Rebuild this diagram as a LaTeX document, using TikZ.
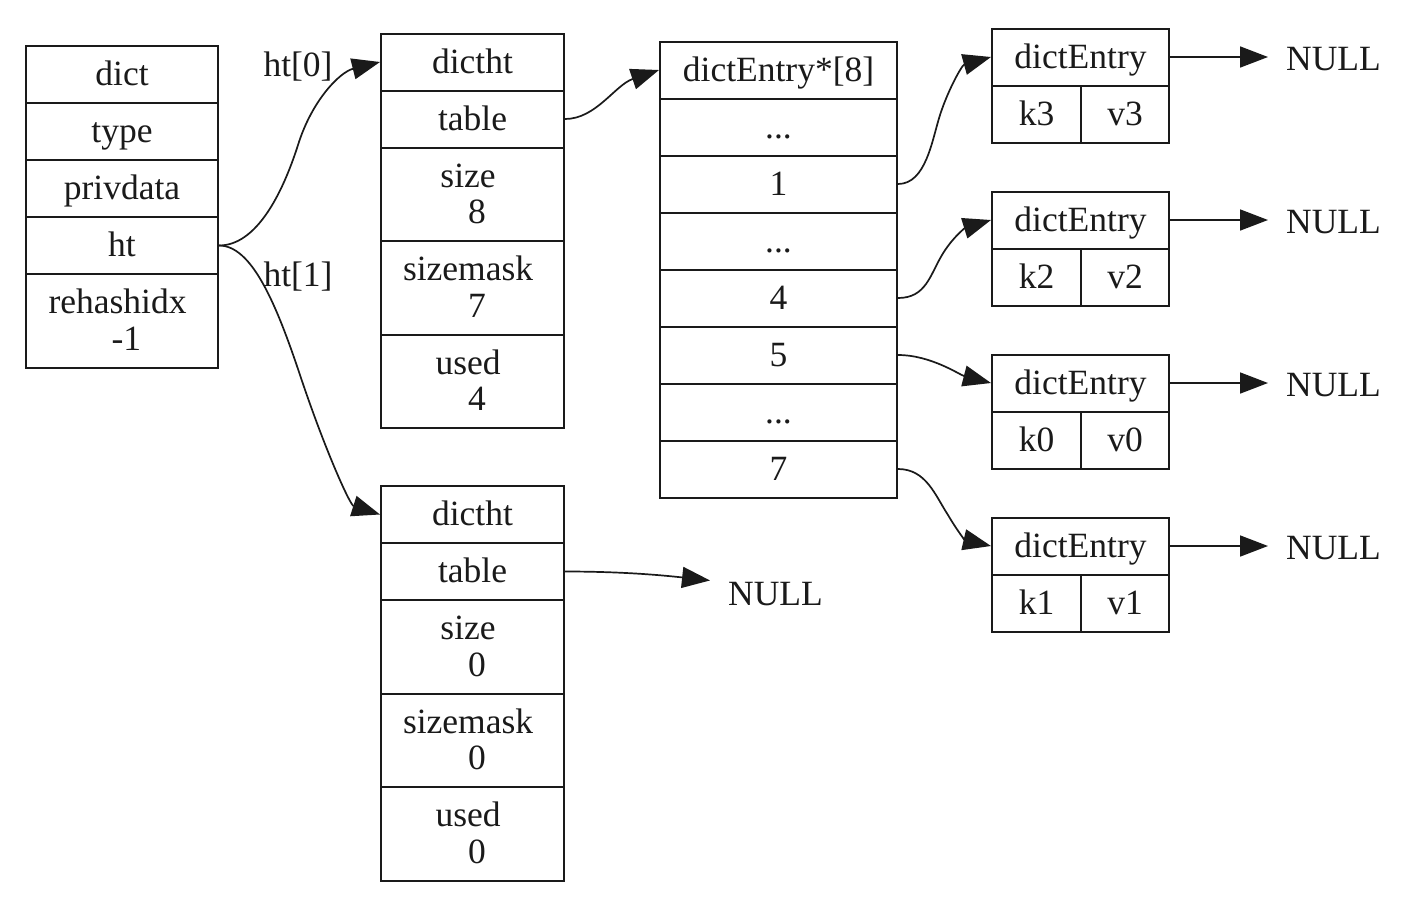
\documentclass[tikz,border=0pt]{standalone}
\usepackage{fontspec}
\setmainfont{Liberation Serif}
\usetikzlibrary{arrows.meta}

\definecolor{ink}{HTML}{1A1A1A}
\newcommand\cellfont{\fontsize{35.5}{36.5}\selectfont}
\newcommand\pd{\kern0.25em}
% two stacked lines inside one record field
\newcommand\two[2]{\begin{tabular}[t]{@{}c@{}}#1\\#2\end{tabular}}

\begin{document}
\begin{tikzpicture}[x=1pt,y=-1pt,
  every node/.style={font=\cellfont, text=ink},
  box/.style={draw=ink, line width=2pt, inner sep=0pt, text height=24pt, text depth=2pt, minimum height=57pt},
  tall/.style={box, minimum height=93.5pt, text depth=38.5pt},
  dictw/.style={minimum width=192pt},
  htw/.style={minimum width=183pt},
  arrw/.style={minimum width=237pt},
  entw/.style={minimum width=177pt},
  kw/.style={minimum width=89pt},
  vw/.style={minimum width=88pt},
  link/.style={draw=ink, line width=1.7pt, -{Triangle[length=28pt,width=21pt]}},
  lbl/.style={inner sep=0pt, text height=24pt, text depth=3pt},
  nullnode/.style={inner xsep=18pt, inner ysep=0pt, text height=26pt, text depth=0pt, anchor=west}
]
\path[fill=white, use as bounding box] (0,0) rectangle (1418,914);

% dict
\node[box,dictw] (dict) at (122,74.5) {dict};
\node[box,dictw] (type) at (122,131.5) {type};
\node[box,dictw] (priv) at (122,188.5) {privdata};
\node[box,dictw] (ht) at (122,245.5) {ht};
\node[tall,dictw] (rehash) at (122,320.75) {\two{rehashidx\pd}{\pd-1}};

% dictht ht[0]
\node[box,htw] (h0) at (472.5,62) {dictht};
\node[box,htw] (t0) at (472.5,119) {table};
\node[tall,htw] (s0) at (472.5,194.25) {\two{size\pd}{\pd8}};
\node[tall,htw] (m0) at (472.5,287.75) {\two{sizemask\pd}{\pd7}};
\node[tall,htw] (u0) at (472.5,381.25) {\two{used\pd}{\pd4}};

% dictht ht[1]
\node[box,htw] (h1) at (472.5,514.5) {dictht};
\node[box,htw] (t1) at (472.5,571.5) {table};
\node[tall,htw] (s1) at (472.5,646.75) {\two{size\pd}{\pd0}};
\node[tall,htw] (m1) at (472.5,740.25) {\two{sizemask\pd}{\pd0}};
\node[tall,htw] (u1) at (472.5,833.75) {\two{used\pd}{\pd0}};

% bucket array
\node[box,arrw] (a) at (778.5,70) {dictEntry*[8]};
\node[box,arrw] (rd1) at (778.5,127) {...};
\node[box,arrw] (r1) at (778.5,184) {1};
\node[box,arrw] (rd2) at (778.5,241) {...};
\node[box,arrw] (r4) at (778.5,298) {4};
\node[box,arrw] (r5) at (778.5,355) {5};
\node[box,arrw] (rd3) at (778.5,412) {...};
\node[box,arrw] (r7) at (778.5,469) {7};

% entries
\node[box,entw] (e3) at (1080.5,57) {dictEntry};
\node[box,kw] (k3) at (1036.5,114) {k3};
\node[box,vw] (v3) at (1125,114) {v3};

\node[box,entw] (e2) at (1080.5,220) {dictEntry};
\node[box,kw] (k2) at (1036.5,277) {k2};
\node[box,vw] (v2) at (1125,277) {v2};

\node[box,entw] (e0) at (1080.5,383) {dictEntry};
\node[box,kw] (k0) at (1036.5,440) {k0};
\node[box,vw] (v0) at (1125,440) {v0};

\node[box,entw] (e1) at (1080.5,546) {dictEntry};
\node[box,kw] (k1) at (1036.5,603) {k1};
\node[box,vw] (v1) at (1125,603) {v1};

% NULL terminators
\node[nullnode] (n3) at (1268,57) {NULL};
\node[nullnode] (n2) at (1268,220) {NULL};
\node[nullnode] (n0) at (1268,383) {NULL};
\node[nullnode] (n1) at (1268,546) {NULL};
\node[nullnode] (nt) at (710,592) {NULL};

% edge labels
\node[lbl] (l0) at (298,66) {ht[0]};
\node[lbl] (l1) at (298,276) {ht[1]};

% pointers
\draw[link] (ht.east) .. controls +(37,0) and (282,195) .. (298,145)
                      .. controls (312,100) and (340,72) .. (h0.west);
\draw[link] (ht.east) .. controls +(32,0) and (275,300) .. (300,375)
                      .. controls (325,450) and (350,505) .. (h1.west);
\draw[link] (t0.east) .. controls +(31,0) and (615,85) .. (a.west);
\draw[link] (t1.east) .. controls +(56,0) and (660,575) .. (nt.170);

\draw[link] (r1.east) .. controls +(28,0) and (932,140) .. (940,115)
                      .. controls (948,90) and (962,65) .. (e3.west);
\draw[link] (r4.east) .. controls +(28,0) and (930,275) .. (942,255)
                      .. controls (952,238) and (965,228) .. (e2.west);
\draw[link] (r5.east) .. controls +(33,0) and (960,375) .. (e0.west);
\draw[link] (r7.east) .. controls +(28,0) and (935,495) .. (948,515)
                      .. controls (958,532) and (965,540) .. (e1.west);

\draw[link] (e3.east) -- (n3.west);
\draw[link] (e2.east) -- (n2.west);
\draw[link] (e0.east) -- (n0.west);
\draw[link] (e1.east) -- (n1.west);
\end{tikzpicture}
\end{document}
